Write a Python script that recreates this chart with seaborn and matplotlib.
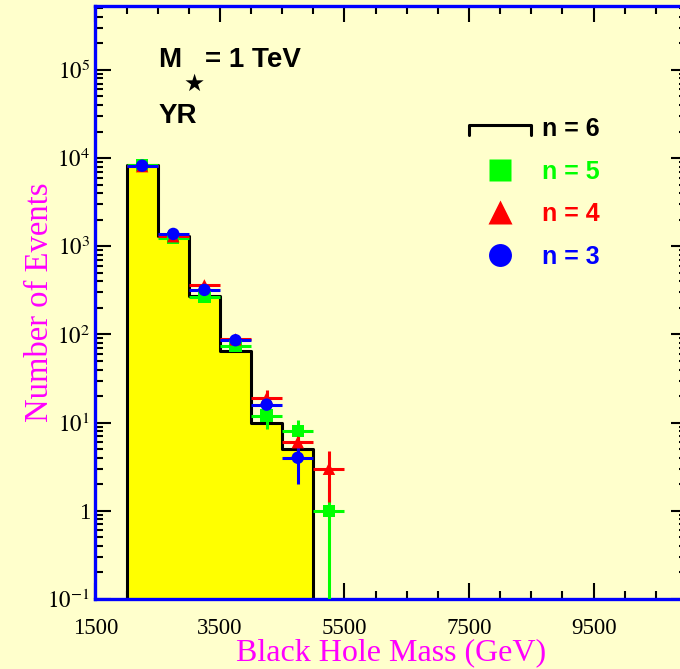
import numpy as np
import pandas as pd
import matplotlib
matplotlib.use('Agg')
import matplotlib.pyplot as plt
import seaborn as sns
from matplotlib.lines import Line2D
from matplotlib.legend_handler import HandlerBase
from matplotlib.ticker import MultipleLocator, FixedLocator, LogLocator, NullFormatter

# data
bin_edges = [2000, 2500, 3000, 3500, 4000, 4500, 5000]
bin_centers = [2250, 2750, 3250, 3750, 4250, 4750]
n6_counts = [8300, 1300, 275, 65, 10, 5]

n5_mass = [2250, 2750, 3250, 3750, 4250, 4750, 5250]
n5_counts = [8400, 1250, 265, 74, 12, 8, 1]
n4_mass = [2250, 2750, 3250, 3750, 4250, 4750, 5250]
n4_counts = [8100, 1300, 360, 88, 19, 6, 3]
n3_mass = [2250, 2750, 3250, 3750, 4250, 4750]
n3_counts = [8200, 1380, 320, 86, 16, 4]

x_ticks = [1500, 3500, 5500, 7500, 9500]
y_ticks = [0.1, 1, 10, 100, 1000, 10000, 100000]
y_ticklabels = ['$10^{-1}$', '1', '$10^{1}$', '$10^{2}$', '$10^{3}$', '$10^{4}$', '$10^{5}$']

# setup
sns.set_style('ticks')
plt.rcParams['mathtext.fontset'] = 'stix'
plt.rcParams['text.color'] = 'black'
plt.rcParams['xtick.color'] = 'black'
plt.rcParams['ytick.color'] = 'black'
bg = '#FFFFCC'
spine_blue = '#0000FF'
magenta = '#FF00FF'
serif = ['Liberation Serif', 'DejaVu Serif']
bold_sans = ['Liberation Sans Narrow', 'Liberation Sans', 'DejaVu Sans']

f = plt.figure(figsize=(6.8, 6.69), dpi=100, facecolor=bg)
ax = f.add_axes([0.1403, 0.1046, 0.870, 0.8864])
ax.set_facecolor(bg)
ax.set_yscale('log')

# n = 6 histogram
hist = pd.DataFrame({'mass': bin_centers, 'events': n6_counts})
sns.histplot(data=hist, x='mass', weights='events', bins=bin_edges, element='step',
             fill=True, color='#FFFF00', edgecolor='black', linewidth=2.2, alpha=1, ax=ax)

# points with sqrt(N) errors
series = [(n5_mass, n5_counts, '#00FF00', 's'),
          (n4_mass, n4_counts, '#FF0000', '^'),
          (n3_mass, n3_counts, '#0000FF', 'o')]
for xs, ys, col, mk in series:
    ys = np.array(ys, dtype=float)
    err = np.sqrt(ys)
    lo = np.minimum(err, ys - 1e-3)
    ax.errorbar(xs, ys, yerr=[lo, err], xerr=250, fmt='none', ecolor=col,
                elinewidth=2.2, capsize=0, zorder=3)
    sns.scatterplot(x=xs, y=ys, color=col, marker=mk, s=80, edgecolor='none',
                    zorder=4, ax=ax, legend=False)

ax.set_xlim(1500, 11000)
ax.set_ylim(0.1, 5.3e5)

ax.xaxis.set_major_locator(FixedLocator(x_ticks))
ax.xaxis.set_minor_locator(MultipleLocator(500))
ax.set_xticklabels([str(t) for t in x_ticks], fontfamily=serif, fontsize=16.5)
ax.yaxis.set_major_locator(FixedLocator(y_ticks))
ax.yaxis.set_minor_locator(LogLocator(base=10, subs=np.arange(2, 10)))
ax.yaxis.set_minor_formatter(NullFormatter())
ax.set_yticklabels(y_ticklabels, fontfamily=serif, fontsize=16.5)
ax.tick_params(which='both', direction='in', top=True, right=True, colors='black')
ax.tick_params(which='major', length=11.5, width=1.5)
ax.tick_params(which='minor', length=5.8, width=1.5)
ax.tick_params(axis='x', which='major', pad=14)
ax.tick_params(axis='y', which='major', pad=4)
for s in ax.spines.values():
    s.set_color(spine_blue)
    s.set_linewidth(2.4)

ax.set_xlabel('Black Hole Mass (GeV)', color=magenta, fontsize=23, fontfamily=serif)
ax.set_ylabel('Number of Events', color=magenta, fontsize=23.5, fontfamily=serif)
ax.xaxis.set_label_coords(0.5, -0.066)
ax.yaxis.set_label_coords(-0.068, 0.5)

# annotations
ax.text(0.106, 0.898, 'M', transform=ax.transAxes, fontsize=20, fontweight='bold',
        family=bold_sans, ha='left', va='baseline', color='black')
ax.text(0.1667, 0.868, '\u2605', transform=ax.transAxes, fontsize=17,
        family='DejaVu Sans', ha='center', va='center', color='black')
ax.text(0.1853, 0.898, '= 1 TeV', transform=ax.transAxes, fontsize=20, fontweight='bold',
        family=bold_sans, ha='left', va='baseline', color='black')
ax.text(0.106, 0.802, 'YR', transform=ax.transAxes, fontsize=20, fontweight='bold',
        family=bold_sans, ha='left', va='baseline', color='black')


# legend
class BracketHandler(HandlerBase):
    def create_artists(self, legend, orig_handle, xdescent, ydescent, width, height,
                       fontsize, trans):
        x0, x1 = -xdescent, -xdescent + width
        ytop = -ydescent + height / 2 + 2
        ybot = ytop - 7.2
        return [Line2D([x0, x0, x1, x1], [ybot, ytop, ytop, ybot], color='black',
                       lw=2.2, transform=trans)]


h6 = Line2D([], [], color='black')
h5 = Line2D([], [], color='#00FF00', marker='s', ls='none', markersize=16.5, mec='none')
h4 = Line2D([], [], color='#FF0000', marker='^', ls='none', markersize=17.5, mec='none')
h3 = Line2D([], [], color='#0000FF', marker='o', ls='none', markersize=16.5, mec='none')
leg = ax.legend([h6, h5, h4, h3], ['n = 6', 'n = 5', 'n = 4', 'n = 3'],
                handler_map={h6: BracketHandler()}, loc='upper left',
                bbox_to_anchor=(0.631, 0.8127), frameon=False,
                prop={'family': bold_sans, 'weight': 'bold', 'size': 18},
                handlelength=2.5, handletextpad=0.43, labelspacing=0.74,
                borderpad=0, borderaxespad=0)
for t, c in zip(leg.get_texts(), ['black', '#00FF00', '#FF0000', '#0000FF']):
    t.set_color(c)

f.savefig('out.png', dpi=100, facecolor=bg)
